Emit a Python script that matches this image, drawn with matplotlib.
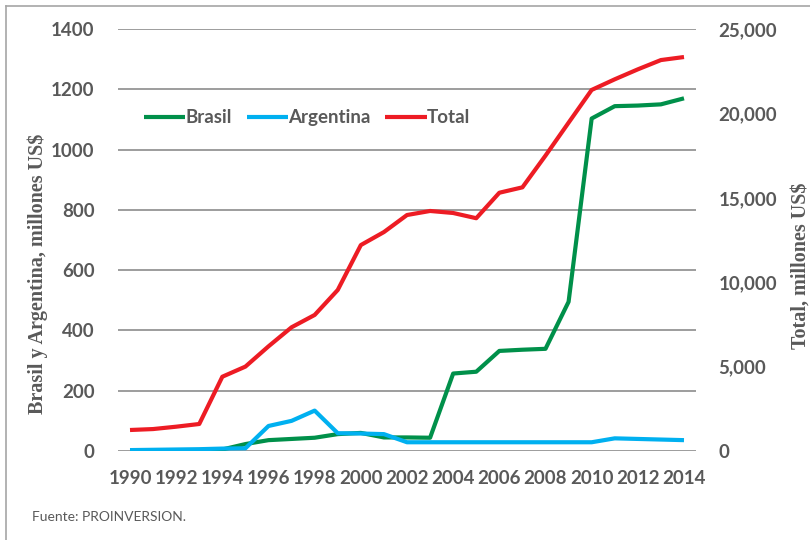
import matplotlib
matplotlib.use("Agg")
import matplotlib.pyplot as plt
from matplotlib.lines import Line2D

years = list(range(1990, 2015))
brasil = [3, 3, 3, 3, 5, 23, 36, 40, 44, 56, 60, 45, 45, 44, 257, 263, 332, 336, 339, 495,
          1103, 1144, 1146, 1150, 1170]
argentina = [3, 4, 5, 6, 8, 9, 83, 100, 134, 59, 58, 56, 29, 29, 29, 29, 29, 29, 29, 29,
             29, 42, 40, 38, 36]
total = [1244, 1300, 1440, 1600, 4400, 5000, 6200, 7330, 8060, 9540, 12200, 12970, 13980,
         14220, 14100, 13790, 15300, 15620, 17500, 19450, 21390, 22020, 22610, 23160, 23340]

left_ticks = [0, 200, 400, 600, 800, 1000, 1200, 1400]
right_ticks = [0, 5000, 10000, 15000, 20000, 25000]
x_ticks = list(range(1990, 2015, 2))

c_green = "#00904A"
c_blue = "#00B0F0"
c_red = "#ED1C24"
c_text = "#595959"
c_grid = "#8C8C8C"

fig = plt.figure(figsize=(8.1, 5.4), dpi=100)
ax1 = fig.add_axes([118 / 810, 1 - 451 / 540, (696 - 118) / 810, (451 - 29) / 540])
ax2 = ax1.twinx()

ax1.plot(years, brasil, color=c_green, lw=3, solid_capstyle="butt", label="Brasil", zorder=3)
ax1.plot(years, argentina, color=c_blue, lw=3, solid_capstyle="butt", label="Argentina", zorder=4)
ax2.plot(years, total, color=c_red, lw=3, solid_capstyle="butt", label="Total")

ax1.set_xlim(1989.48, 2014.52)
ax1.set_ylim(0, 1400)
ax2.set_ylim(0, 25000)

ax1.set_yticks(left_ticks)
ax1.set_xticks(x_ticks)
ax2.set_yticks(right_ticks)
ax2.set_yticklabels([f"{v:,}" for v in right_ticks])

ax1.grid(axis="y", color=c_grid, lw=1.2)
ax1.set_axisbelow(True)
for ax in (ax1, ax2):
    for s in ax.spines.values():
        s.set_visible(False)
    ax.tick_params(length=0, labelsize=13.5, labelcolor=c_text)
    for lbl in ax.get_xticklabels() + ax.get_yticklabels():
        lbl.set_fontweight("bold")
        lbl.set_fontfamily("Lato")

ax1.tick_params(axis="y", pad=17)
ax1.tick_params(axis="x", pad=14)
ax2.tick_params(axis="y", pad=16)

ax1.set_ylabel("Brasil y Argentina, millones US$", fontsize=14.5, fontweight="bold",
               family="Liberation Serif", color=c_text)
ax2.set_ylabel("Total, millones US$", fontsize=14.5, fontweight="bold",
               family="Liberation Serif", color=c_text, rotation=90)
ax1.yaxis.set_label_coords(-0.121, 0.42)
ax2.yaxis.set_label_coords(1.163, 0.44)

h1, l1 = ax1.get_legend_handles_labels()
h2, l2 = ax2.get_legend_handles_labels()
leg = ax2.legend(h1 + h2, l1 + l2, loc="center left", bbox_to_anchor=(0.029, 0.79),
                 ncol=3, frameon=False, handlelength=2.2, handletextpad=0.0,
                 columnspacing=0.8, borderpad=0.0,
                 prop={"family": "Lato", "weight": "bold", "size": 13.5})
for t in leg.get_texts():
    t.set_color(c_text)

fig.text(32 / 810, 1 - 517 / 540, "Fuente: PROINVERSION.", fontsize=10, color=c_text,
         family="Lato", va="center")

# outer frame (left and top edges visible)
fig.add_artist(Line2D([6 / 810, 6 / 810], [0, 1 - 6 / 540], transform=fig.transFigure,
                      color="#A6A6A6", lw=1.2))
fig.add_artist(Line2D([6 / 810, 1], [1 - 6 / 540, 1 - 6 / 540], transform=fig.transFigure,
                      color="#A6A6A6", lw=1.2))

plt.savefig("out.png", dpi=100)
plt.close(fig)
